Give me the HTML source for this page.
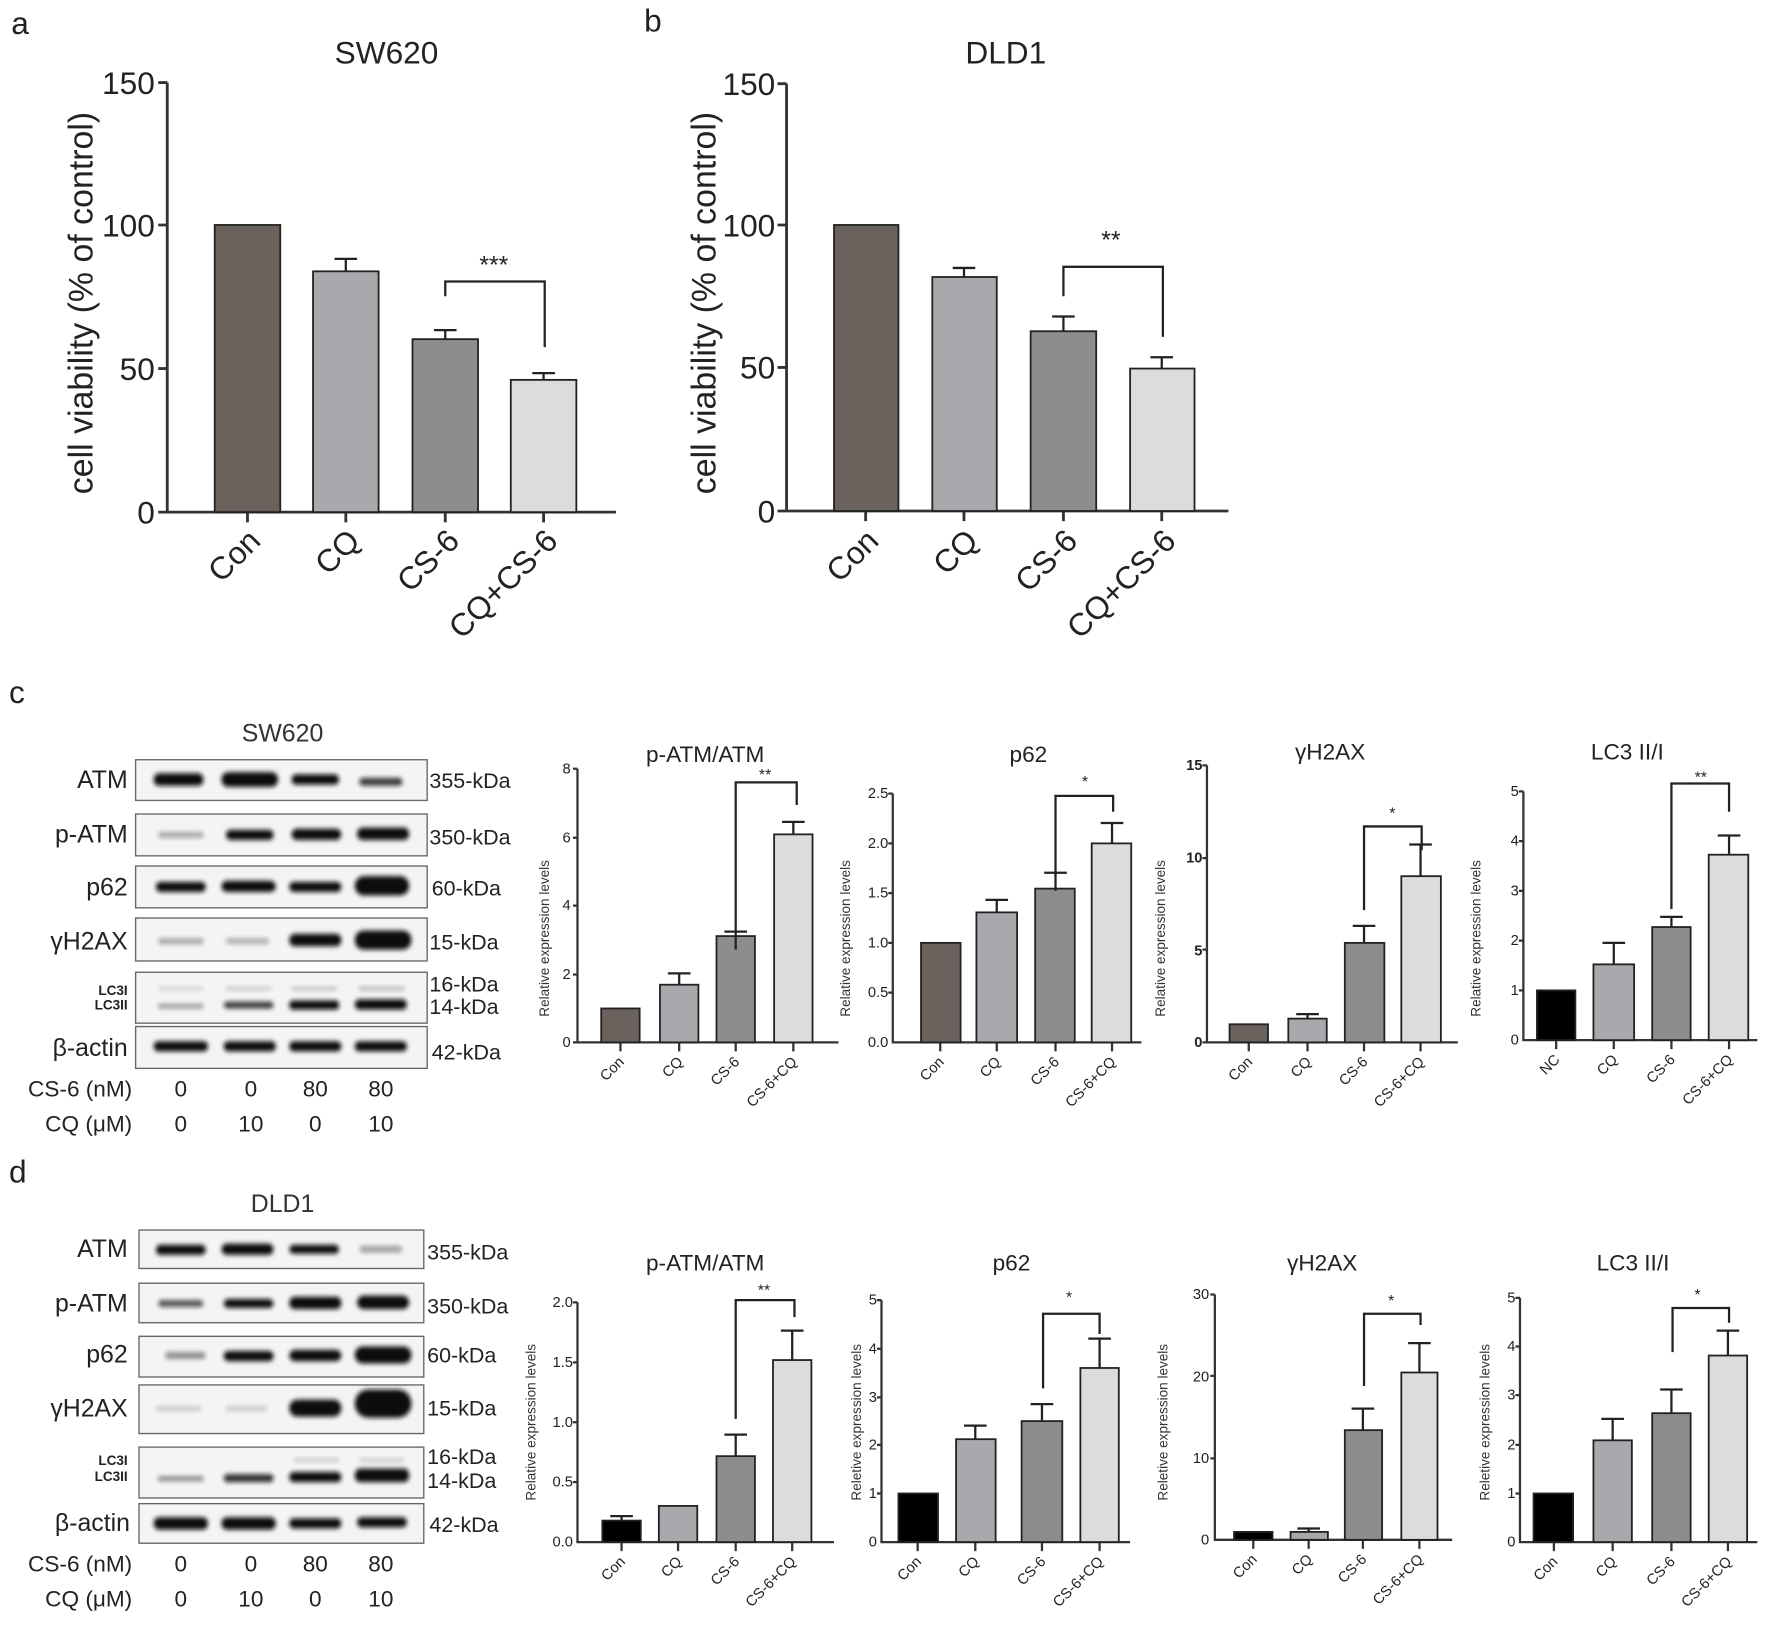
<!DOCTYPE html>
<html><head><meta charset="utf-8"><style>
html,body{margin:0;padding:0;background:#fff}
svg{display:block}
text{font-family:"Liberation Sans",Arial,sans-serif;fill:#222}
.t{font-size:13px;fill:#222}
.xl{font-size:13px;fill:#222}
.yl{font-size:12px;fill:#333}
.ti{font-size:20px}
.big{font-size:28px;fill:#222}
.ax{stroke:#333;stroke-width:2.5;fill:none}
.sax{stroke:#333;stroke-width:2;fill:none}
.bar{stroke:#222;stroke-width:1.6}
.eb{stroke:#222;stroke-width:2;fill:none}
.bl{font-size:22px;fill:#111}
.kd{font-size:19px;fill:#111}
.box{fill:#f4f4f4;stroke:#666;stroke-width:1.2}
.b{fill:#111;filter:url(#bl)}
</style></head><body>
<svg width="1772" height="1628" viewBox="0 0 1568 1440" preserveAspectRatio="none" xmlns="http://www.w3.org/2000/svg">
<defs><filter id="bl" x="-20%" y="-100%" width="140%" height="300%"><feGaussianBlur stdDeviation="2"/></filter></defs>

<!-- Panel a -->
<text x="10" y="30" style="font-size:28px">a</text>
<text x="342" y="56" class="big" text-anchor="middle" style="font-size:28px">SW620</text>
<g class="big" text-anchor="end">
<text x="137" y="83">150</text><text x="137" y="209">100</text><text x="137" y="336">50</text><text x="137" y="463">0</text></g>
<text transform="translate(82,268) rotate(-90)" text-anchor="middle" class="big" style="font-size:30px">cell viability (% of control)</text>
<path class="ax" d="M148 73V453H545M140 73H148M140 199H148M140 326H148M140 453H148M219 453V462M306 453V462M394 453V462M481 453V462"/>
<rect class="bar" x="190" y="199" width="58" height="254" fill="#6b625d"/>
<rect class="bar" x="277" y="240" width="58" height="213" fill="#a9a8ac"/>
<rect class="bar" x="365" y="300" width="58" height="153" fill="#8d8d8f"/>
<rect class="bar" x="452" y="336" width="58" height="117" fill="#dcdcdc"/>
<path class="eb" d="M306 240V229M296 229H316M394 300V292M384 292H404M481 336V330M471 330H491"/>
<path class="eb" d="M394 262V249H482V307"/>
<text x="437" y="242" text-anchor="middle" style="font-size:22px">***</text>
<g class="big" text-anchor="end">
<text transform="translate(232,480) rotate(-45)">Con</text>
<text transform="translate(320,480) rotate(-45)">CQ</text>
<text transform="translate(408,480) rotate(-45)">CS-6</text>
<text transform="translate(495,480) rotate(-45)">CQ+CS-6</text></g>

<!-- Panel b -->
<text x="570" y="28" style="font-size:28px">b</text>
<text x="890" y="56" class="big" text-anchor="middle" style="font-size:28px">DLD1</text>
<g class="big" text-anchor="end">
<text x="686" y="84">150</text><text x="686" y="209">100</text><text x="686" y="335">50</text><text x="686" y="462">0</text></g>
<text transform="translate(633,268) rotate(-90)" text-anchor="middle" class="big" style="font-size:30px">cell viability (% of control)</text>
<path class="ax" d="M696 74V452H1087M688 74H696M688 199H696M688 325H696M688 452H696M766 452V461M853 452V461M941 452V461M1028 452V461"/>
<rect class="bar" x="738" y="199" width="57" height="253" fill="#6b625d"/>
<rect class="bar" x="825" y="245" width="57" height="207" fill="#a9a8ac"/>
<rect class="bar" x="912" y="293" width="58" height="159" fill="#8d8d8f"/>
<rect class="bar" x="1000" y="326" width="57" height="126" fill="#dcdcdc"/>
<path class="eb" d="M853 245V237M843 237H863M941 293V280M931 280H951M1028 326V316M1018 316H1038"/>
<path class="eb" d="M941 262V236H1029V298"/>
<text x="983" y="220" text-anchor="middle" style="font-size:22px">**</text>
<g class="big" text-anchor="end">
<text transform="translate(779,480) rotate(-45)">Con</text>
<text transform="translate(867,480) rotate(-45)">CQ</text>
<text transform="translate(955,480) rotate(-45)">CS-6</text>
<text transform="translate(1042,480) rotate(-45)">CQ+CS-6</text></g>

<!-- Panel c blots -->
<text x="8" y="622" style="font-size:28px">c</text>
<text x="250" y="656" text-anchor="middle" style="font-size:22px;fill:#333">SW620</text>
<g>
<rect class="box" x="120" y="672" width="258" height="36"/>
<rect class="box" x="120" y="720" width="258" height="37"/>
<rect class="box" x="120" y="766" width="258" height="37" fill="#eee"/>
<rect class="box" x="120" y="812" width="258" height="38"/>
<rect class="box" x="120" y="860" width="258" height="45"/>
<rect class="box" x="120" y="908" width="258" height="37"/>
</g>
<g class="bl" text-anchor="end">
<text x="113" y="697">ATM</text><text x="113" y="745">p-ATM</text><text x="113" y="792">p62</text><text x="113" y="840">γH2AX</text><text x="113" y="934">β-actin</text></g>
<text x="113" y="880" text-anchor="end" style="font-size:12px;font-weight:bold">LC3I</text>
<text x="113" y="893" text-anchor="end" style="font-size:12px;font-weight:bold">LC3II</text>
<g class="kd"><text x="380" y="697">355-kDa</text><text x="380" y="747">350-kDa</text><text x="382" y="792">60-kDa</text><text x="380" y="840">15-kDa</text><text x="380" y="877">16-kDa</text><text x="380" y="897">14-kDa</text><text x="382" y="937">42-kDa</text></g>
<g>
<rect class="b" x="136" y="684" width="44" height="11" rx="5"/><rect class="b" x="196" y="683" width="50" height="13" rx="6"/><rect class="b" x="258" y="685" width="42" height="9" rx="4"/><rect class="b" x="318" y="688" width="38" height="7" rx="3" opacity=".8"/>
<rect class="b" x="140" y="736" width="40" height="5" rx="2" opacity=".35"/><rect class="b" x="200" y="734" width="42" height="9" rx="4"/><rect class="b" x="258" y="733" width="44" height="10" rx="5"/><rect class="b" x="316" y="732" width="46" height="11" rx="5"/>
<rect class="b" x="138" y="780" width="44" height="9" rx="4"/><rect class="b" x="196" y="779" width="48" height="10" rx="5"/><rect class="b" x="256" y="780" width="46" height="9" rx="4"/><rect class="b" x="314" y="775" width="48" height="17" rx="8"/>
<rect class="b" x="140" y="830" width="40" height="5" rx="2" opacity=".35"/><rect class="b" x="200" y="830" width="38" height="5" rx="2" opacity=".3"/><rect class="b" x="256" y="826" width="46" height="11" rx="5"/><rect class="b" x="314" y="823" width="50" height="17" rx="8"/>
<rect class="b" x="140" y="873" width="40" height="3" opacity=".15"/><rect class="b" x="200" y="873" width="40" height="3" opacity=".2"/><rect class="b" x="258" y="873" width="40" height="3" opacity=".25"/><rect class="b" x="318" y="873" width="40" height="3" opacity=".3"/>
<rect class="b" x="140" y="888" width="40" height="4" opacity=".4"/><rect class="b" x="198" y="886" width="44" height="6" rx="3" opacity=".8"/><rect class="b" x="256" y="885" width="44" height="8" rx="3"/><rect class="b" x="314" y="884" width="46" height="9" rx="4"/>
<rect class="b" x="136" y="921" width="48" height="9" rx="4"/><rect class="b" x="198" y="921" width="46" height="9" rx="4"/><rect class="b" x="256" y="921" width="46" height="9" rx="4"/><rect class="b" x="314" y="921" width="46" height="9" rx="4"/>
</g>
<g class="bl" style="font-size:20px">
<text x="117" y="970" text-anchor="end">CS-6 (nM)</text><text x="117" y="1001" text-anchor="end">CQ (μM)</text>
<g text-anchor="middle"><text x="160" y="970">0</text><text x="222" y="970">0</text><text x="279" y="970">80</text><text x="337" y="970">80</text>
<text x="160" y="1001">0</text><text x="222" y="1001">10</text><text x="279" y="1001">0</text><text x="337" y="1001">10</text></g></g>

<!-- c1 -->
<text x="624" y="674" class="ti" text-anchor="middle">p-ATM/ATM</text>
<text transform="translate(486,830) rotate(-90)" class="yl" text-anchor="middle">Relative expression levels</text>
<g class="t" text-anchor="end"><text x="505" y="926">0</text><text x="505" y="866">2</text><text x="505" y="805">4</text><text x="505" y="745">6</text><text x="505" y="684">8</text></g>
<path class="sax" d="M511 680V922H742M507 680H511M507 741H511M507 801H511M507 862H511M507 922H511M549 922V930M601 922V930M651 922V930M702 922V930"/>
<rect class="bar" x="532" y="892" width="34" height="30" fill="#6b625d"/>
<rect class="bar" x="584" y="871" width="34" height="51" fill="#a9a8ac"/>
<rect class="bar" x="634" y="828" width="34" height="94" fill="#8d8d8f"/>
<rect class="bar" x="685" y="738" width="34" height="184" fill="#dcdcdc"/>
<path class="eb" d="M601 871V861M591 861H611M651 828V824M641 824H661M702 738V727M692 727H712M651 840V692H705V712"/>
<text x="677" y="690" text-anchor="middle" style="font-size:14px">**</text>
<g class="xl" text-anchor="end"><text transform="translate(553,940) rotate(-45)">Con</text><text transform="translate(605,940) rotate(-45)">CQ</text><text transform="translate(655,940) rotate(-45)">CS-6</text><text transform="translate(706,940) rotate(-45)">CS-6+CQ</text></g>

<!-- c2 -->
<text x="910" y="674" class="ti" text-anchor="middle">p62</text>
<text transform="translate(752,830) rotate(-90)" class="yl" text-anchor="middle">Relative expression levels</text>
<g class="t" text-anchor="end"><text x="786" y="926">0.0</text><text x="786" y="882">0.5</text><text x="786" y="838">1.0</text><text x="786" y="794">1.5</text><text x="786" y="750">2.0</text><text x="786" y="706">2.5</text></g>
<path class="sax" d="M790 702V922H1010M786 702H790M786 746H790M786 790H790M786 834H790M786 878H790M832 922V930M882 922V930M934 922V930M984 922V930"/>
<rect class="bar" x="815" y="834" width="35" height="88" fill="#6b625d"/>
<rect class="bar" x="864" y="807" width="36" height="115" fill="#a9a8ac"/>
<rect class="bar" x="916" y="786" width="35" height="136" fill="#8d8d8f"/>
<rect class="bar" x="966" y="746" width="35" height="176" fill="#dcdcdc"/>
<path class="eb" d="M882 807V796M872 796H892M934 786V772M924 772H944M984 746V728M974 728H994M934 788V704H985V718"/>
<text x="960" y="696" text-anchor="middle" style="font-size:14px">*</text>
<g class="xl" text-anchor="end"><text transform="translate(836,940) rotate(-45)">Con</text><text transform="translate(886,940) rotate(-45)">CQ</text><text transform="translate(938,940) rotate(-45)">CS-6</text><text transform="translate(988,940) rotate(-45)">CS-6+CQ</text></g>

<!-- c3 -->
<text x="1177" y="672" class="ti" text-anchor="middle">γH2AX</text>
<text transform="translate(1031,830) rotate(-90)" class="yl" text-anchor="middle">Relative expression levels</text>
<g class="t" text-anchor="end" style="font-weight:bold"><text x="1064" y="926">0</text><text x="1064" y="845">5</text><text x="1064" y="763">10</text><text x="1064" y="681">15</text></g>
<path class="sax" d="M1068 677V922H1290M1064 677H1068M1064 759H1068M1064 840H1068M1064 922H1068M1105 922V930M1157 922V930M1207 922V930M1257 922V930"/>
<rect class="bar" x="1088" y="906" width="34" height="16" fill="#6b625d"/>
<rect class="bar" x="1140" y="901" width="34" height="21" fill="#a9a8ac"/>
<rect class="bar" x="1190" y="834" width="35" height="88" fill="#8d8d8f"/>
<rect class="bar" x="1240" y="775" width="35" height="147" fill="#dcdcdc"/>
<path class="eb" d="M1157 901V897M1147 897H1167M1207 834V819M1197 819H1217M1257 775V747M1247 747H1267M1207 805V731H1258V752"/>
<text x="1232" y="724" text-anchor="middle" style="font-size:14px">*</text>
<g class="xl" text-anchor="end"><text transform="translate(1109,940) rotate(-45)">Con</text><text transform="translate(1161,940) rotate(-45)">CQ</text><text transform="translate(1211,940) rotate(-45)">CS-6</text><text transform="translate(1261,940) rotate(-45)">CS-6+CQ</text></g>

<!-- c4 -->
<text x="1440" y="672" class="ti" text-anchor="middle">LC3 II/I</text>
<text transform="translate(1310,830) rotate(-90)" class="yl" text-anchor="middle">Relative expression levels</text>
<g class="t" text-anchor="end"><text x="1344" y="924">0</text><text x="1344" y="880">1</text><text x="1344" y="836">2</text><text x="1344" y="792">3</text><text x="1344" y="748">4</text><text x="1344" y="704">5</text></g>
<path class="sax" d="M1348 700V920H1555M1344 700H1348M1344 744H1348M1344 788H1348M1344 832H1348M1344 876H1348M1377 920V928M1428 920V928M1479 920V928M1530 920V928"/>
<rect class="bar" x="1360" y="876" width="34" height="44" fill="#000"/>
<rect class="bar" x="1410" y="853" width="36" height="67" fill="#a9a8ac"/>
<rect class="bar" x="1462" y="820" width="34" height="100" fill="#8d8d8f"/>
<rect class="bar" x="1512" y="756" width="35" height="164" fill="#dcdcdc"/>
<path class="eb" d="M1428 853V834M1418 834H1438M1479 820V811M1469 811H1489M1530 756V739M1520 739H1540M1479 804V693H1530V718"/>
<text x="1505" y="692" text-anchor="middle" style="font-size:14px">**</text>
<g class="xl" text-anchor="end"><text transform="translate(1381,938) rotate(-45)">NC</text><text transform="translate(1432,938) rotate(-45)">CQ</text><text transform="translate(1483,938) rotate(-45)">CS-6</text><text transform="translate(1534,938) rotate(-45)">CS-6+CQ</text></g>

<!-- Panel d blots -->
<text x="8" y="1046" style="font-size:28px">d</text>
<text x="250" y="1072" text-anchor="middle" style="font-size:22px;fill:#333">DLD1</text>
<g>
<rect class="box" x="123" y="1088" width="252" height="34"/>
<rect class="box" x="123" y="1135" width="252" height="35"/>
<rect class="box" x="123" y="1182" width="252" height="36"/>
<rect class="box" x="123" y="1225" width="252" height="43"/>
<rect class="box" x="123" y="1280" width="252" height="45"/>
<rect class="box" x="123" y="1330" width="252" height="35"/>
</g>
<g class="bl" text-anchor="end">
<text x="113" y="1112">ATM</text><text x="113" y="1160">p-ATM</text><text x="113" y="1205">p62</text><text x="113" y="1253">γH2AX</text><text x="115" y="1354">β-actin</text></g>
<text x="113" y="1296" text-anchor="end" style="font-size:12px;font-weight:bold">LC3I</text>
<text x="113" y="1310" text-anchor="end" style="font-size:12px;font-weight:bold">LC3II</text>
<g class="kd"><text x="378" y="1114">355-kDa</text><text x="378" y="1162">350-kDa</text><text x="378" y="1205">60-kDa</text><text x="378" y="1252">15-kDa</text><text x="378" y="1295">16-kDa</text><text x="378" y="1316">14-kDa</text><text x="380" y="1355">42-kDa</text></g>
<g>
<rect class="b" x="138" y="1101" width="44" height="9" rx="4"/><rect class="b" x="196" y="1100" width="46" height="10" rx="5"/><rect class="b" x="256" y="1101" width="44" height="8" rx="4"/><rect class="b" x="318" y="1102" width="38" height="6" rx="3" opacity=".35"/>
<rect class="b" x="140" y="1150" width="40" height="6" rx="3" opacity=".7"/><rect class="b" x="198" y="1149" width="44" height="8" rx="4"/><rect class="b" x="256" y="1147" width="46" height="11" rx="5"/><rect class="b" x="316" y="1146" width="46" height="12" rx="6"/>
<rect class="b" x="146" y="1196" width="36" height="6" rx="3" opacity=".45"/><rect class="b" x="198" y="1195" width="44" height="9" rx="4"/><rect class="b" x="256" y="1194" width="46" height="10" rx="5"/><rect class="b" x="314" y="1191" width="50" height="15" rx="7"/>
<rect class="b" x="138" y="1244" width="40" height="4" opacity=".2"/><rect class="b" x="200" y="1244" width="36" height="4" opacity=".2"/><rect class="b" x="256" y="1238" width="46" height="15" rx="7"/><rect class="b" x="314" y="1229" width="50" height="25" rx="12"/>
<rect class="b" x="260" y="1290" width="40" height="3" opacity=".2"/><rect class="b" x="318" y="1290" width="40" height="3" opacity=".2"/>
<rect class="b" x="140" y="1306" width="40" height="4" opacity=".5"/><rect class="b" x="198" y="1304" width="44" height="7" rx="3" opacity=".85"/><rect class="b" x="256" y="1302" width="46" height="9" rx="4"/><rect class="b" x="314" y="1299" width="48" height="12" rx="5"/>
<rect class="b" x="136" y="1342" width="48" height="11" rx="5"/><rect class="b" x="196" y="1342" width="48" height="11" rx="5"/><rect class="b" x="256" y="1343" width="46" height="9" rx="4"/><rect class="b" x="316" y="1342" width="44" height="9" rx="4"/>
</g>
<g class="bl" style="font-size:20px">
<text x="117" y="1390" text-anchor="end">CS-6 (nM)</text><text x="117" y="1421" text-anchor="end">CQ (μM)</text>
<g text-anchor="middle"><text x="160" y="1390">0</text><text x="222" y="1390">0</text><text x="279" y="1390">80</text><text x="337" y="1390">80</text>
<text x="160" y="1421">0</text><text x="222" y="1421">10</text><text x="279" y="1421">0</text><text x="337" y="1421">10</text></g></g>

<!-- d1 -->
<text x="624" y="1124" class="ti" text-anchor="middle">p-ATM/ATM</text>
<text transform="translate(474,1258) rotate(-90)" class="yl" text-anchor="middle">Relative expression levels</text>
<g class="t" text-anchor="end"><text x="507" y="1368">0.0</text><text x="507" y="1315">0.5</text><text x="507" y="1262">1.0</text><text x="507" y="1209">1.5</text><text x="507" y="1156">2.0</text></g>
<path class="sax" d="M511 1152V1364H738M507 1152H511M507 1205H511M507 1258H511M507 1311H511M550 1364V1372M600 1364V1372M651 1364V1372M701 1364V1372"/>
<rect class="bar" x="533" y="1345" width="34" height="19" fill="#000"/>
<rect class="bar" x="583" y="1332" width="34" height="32" fill="#a9a8ac"/>
<rect class="bar" x="634" y="1288" width="34" height="76" fill="#8d8d8f"/>
<rect class="bar" x="684" y="1203" width="34" height="161" fill="#dcdcdc"/>
<path class="eb" d="M550 1345V1341M540 1341H560M651 1288V1269M641 1269H661M701 1203V1177M691 1177H711M651 1255V1150H703V1165"/>
<text x="676" y="1146" text-anchor="middle" style="font-size:14px">**</text>
<g class="xl" text-anchor="end"><text transform="translate(554,1382) rotate(-45)">Con</text><text transform="translate(604,1382) rotate(-45)">CQ</text><text transform="translate(655,1382) rotate(-45)">CS-6</text><text transform="translate(705,1382) rotate(-45)">CS-6+CQ</text></g>

<!-- d2 -->
<text x="895" y="1124" class="ti" text-anchor="middle">p62</text>
<text transform="translate(762,1258) rotate(-90)" class="yl" text-anchor="middle">Reletive expression levels</text>
<g class="t" text-anchor="end"><text x="776" y="1368">0</text><text x="776" y="1325">1</text><text x="776" y="1282">2</text><text x="776" y="1240">3</text><text x="776" y="1197">4</text><text x="776" y="1154">5</text></g>
<path class="sax" d="M780 1150V1364H1000M776 1150H780M776 1193H780M776 1236H780M776 1278H780M776 1321H780M812 1364V1372M863 1364V1372M922 1364V1372M973 1364V1372"/>
<rect class="bar" x="795" y="1321" width="35" height="43" fill="#000"/>
<rect class="bar" x="846" y="1273" width="35" height="91" fill="#a9a8ac"/>
<rect class="bar" x="904" y="1257" width="36" height="107" fill="#8d8d8f"/>
<rect class="bar" x="956" y="1210" width="34" height="154" fill="#dcdcdc"/>
<path class="eb" d="M863 1273V1261M853 1261H873M922 1257V1242M912 1242H932M973 1210V1184M963 1184H983M923 1228V1162H973V1180"/>
<text x="946" y="1152" text-anchor="middle" style="font-size:14px">*</text>
<g class="xl" text-anchor="end"><text transform="translate(816,1382) rotate(-45)">Con</text><text transform="translate(867,1382) rotate(-45)">CQ</text><text transform="translate(926,1382) rotate(-45)">CS-6</text><text transform="translate(977,1382) rotate(-45)">CS-6+CQ</text></g>

<!-- d3 -->
<text x="1170" y="1124" class="ti" text-anchor="middle">γH2AX</text>
<text transform="translate(1033,1258) rotate(-90)" class="yl" text-anchor="middle">Reletive expression levels</text>
<g class="t" text-anchor="end"><text x="1070" y="1366">0</text><text x="1070" y="1294">10</text><text x="1070" y="1222">20</text><text x="1070" y="1149">30</text></g>
<path class="sax" d="M1075 1145V1362H1285M1071 1145H1075M1071 1217H1075M1071 1290H1075M1109 1362V1370M1158 1362V1370M1206 1362V1370M1256 1362V1370"/>
<rect class="bar" x="1092" y="1355" width="34" height="7" fill="#000"/>
<rect class="bar" x="1142" y="1355" width="33" height="7" fill="#a9a8ac"/>
<rect class="bar" x="1190" y="1265" width="33" height="97" fill="#8d8d8f"/>
<rect class="bar" x="1240" y="1214" width="32" height="148" fill="#dcdcdc"/>
<path class="eb" d="M1158 1355V1352M1148 1352H1168M1206 1265V1246M1196 1246H1216M1256 1214V1188M1246 1188H1266M1207 1226V1162H1257V1172"/>
<text x="1231" y="1155" text-anchor="middle" style="font-size:14px">*</text>
<g class="xl" text-anchor="end"><text transform="translate(1113,1380) rotate(-45)">Con</text><text transform="translate(1162,1380) rotate(-45)">CQ</text><text transform="translate(1210,1380) rotate(-45)">CS-6</text><text transform="translate(1260,1380) rotate(-45)">CS-6+CQ</text></g>

<!-- d4 -->
<text x="1445" y="1124" class="ti" text-anchor="middle">LC3 II/I</text>
<text transform="translate(1318,1258) rotate(-90)" class="yl" text-anchor="middle">Reletive expression levels</text>
<g class="t" text-anchor="end"><text x="1341" y="1368">0</text><text x="1341" y="1325">1</text><text x="1341" y="1282">2</text><text x="1341" y="1238">3</text><text x="1341" y="1195">4</text><text x="1341" y="1152">5</text></g>
<path class="sax" d="M1345 1148V1364H1555M1341 1148H1345M1341 1191H1345M1341 1234H1345M1341 1278H1345M1341 1321H1345M1375 1364V1372M1427 1364V1372M1479 1364V1372M1529 1364V1372"/>
<rect class="bar" x="1357" y="1321" width="35" height="43" fill="#000"/>
<rect class="bar" x="1410" y="1274" width="34" height="90" fill="#a9a8ac"/>
<rect class="bar" x="1462" y="1250" width="34" height="114" fill="#8d8d8f"/>
<rect class="bar" x="1512" y="1199" width="34" height="165" fill="#dcdcdc"/>
<path class="eb" d="M1427 1274V1255M1417 1255H1437M1479 1250V1229M1469 1229H1489M1529 1199V1177M1519 1177H1539M1480 1196V1157H1530V1170"/>
<text x="1502" y="1150" text-anchor="middle" style="font-size:14px">*</text>
<g class="xl" text-anchor="end"><text transform="translate(1379,1382) rotate(-45)">Con</text><text transform="translate(1431,1382) rotate(-45)">CQ</text><text transform="translate(1483,1382) rotate(-45)">CS-6</text><text transform="translate(1533,1382) rotate(-45)">CS-6+CQ</text></g>
</svg>
</body></html>
